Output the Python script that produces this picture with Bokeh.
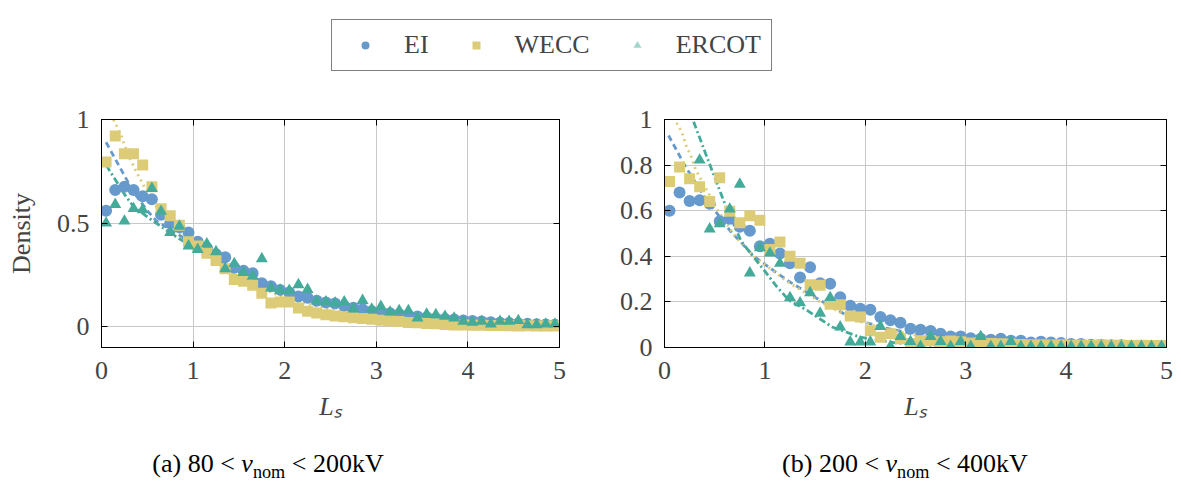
from bokeh.plotting import figure
from bokeh.models import (Legend, LegendItem, LinearAxis, FixedTicker,
                          CustomJSTickFormatter, Range1d, Div, Spacer)
from bokeh.layouts import column, row
from bokeh.embed import file_html
from bokeh.resources import INLINE

# ---------------- data ----------------
bins = [0.05, 0.15, 0.25, 0.35, 0.45, 0.55, 0.65, 0.75, 0.85, 0.95,
        1.05, 1.15, 1.25, 1.35, 1.45, 1.55, 1.65, 1.75, 1.85, 1.95,
        2.05, 2.15, 2.25, 2.35, 2.45, 2.55, 2.65, 2.75, 2.85, 2.95,
        3.05, 3.15, 3.25, 3.35, 3.45, 3.55, 3.65, 3.75, 3.85, 3.95,
        4.05, 4.15, 4.25, 4.35, 4.45, 4.55, 4.65, 4.75, 4.85, 4.95]

# (a) 80 < v_nom < 200 kV
a_ei = [0.56, 0.66, 0.675, 0.66, 0.63, 0.615, 0.54, 0.50, 0.48, 0.455,
        0.41, 0.38, 0.35, 0.335, 0.285, 0.27, 0.258, 0.21, 0.195, 0.178,
        0.165, 0.146, 0.14, 0.125, 0.117, 0.112, 0.10, 0.092, 0.085, 0.075,
        0.07, 0.065, 0.06, 0.055, 0.05, 0.045, 0.04, 0.037, 0.035, 0.03,
        0.028, 0.025, 0.022, 0.02, 0.018, 0.016, 0.014, 0.012, 0.011, 0.01]
a_wecc = [0.795, 0.92, 0.835, 0.835, 0.78, 0.675, 0.57, 0.536, 0.49, 0.41,
          0.39, 0.355, 0.32, 0.28, 0.228, 0.22, 0.2, 0.162, 0.115, 0.12,
          0.12, 0.09, 0.075, 0.066, 0.058, 0.052, 0.048, 0.044, 0.04, 0.036,
          0.032, 0.029, 0.026, 0.021, 0.019, 0.016, 0.014, 0.011, 0.009, 0.008,
          0.007, 0.007, 0.006, 0.006, 0.005, 0.004, 0.005, 0.004, 0.004, 0.004]
a_ercot = [0.50, 0.59, 0.51, 0.57, 0.565, 0.667, 0.557, 0.455, 0.485, 0.39,
           0.373, 0.40, 0.362, 0.28, 0.305, 0.262, 0.244, 0.328, 0.187, 0.176,
           0.175, 0.203, 0.18, 0.124, 0.12, 0.115, 0.12, 0.085, 0.127, 0.085,
           0.098, 0.071, 0.078, 0.078, 0.042, 0.061, 0.058, 0.05, 0.042, 0.026,
           0.022, 0.026, 0.013, 0.026, 0.026, 0.03, 0.01, 0.01, 0.013, 0.013]

# (b) 200 < v_nom < 400 kV
b_ei = [0.60, 0.68, 0.643, 0.646, 0.63, 0.554, 0.565, 0.53, 0.512, 0.444,
        0.455, 0.412, 0.37, 0.307, 0.352, 0.282, 0.28, 0.22, 0.183, 0.17,
        0.166, 0.134, 0.12, 0.109, 0.082, 0.078, 0.072, 0.06, 0.048, 0.048,
        0.041, 0.038, 0.034, 0.038, 0.03, 0.03, 0.022, 0.025, 0.022, 0.02,
        0.015, 0.015, 0.012, 0.012, 0.01, 0.01, 0.008, 0.008, 0.006, 0.006]
b_wecc = [0.728, 0.792, 0.74, 0.705, 0.64, 0.744, 0.598, 0.547, 0.578, 0.558,
          0.43, 0.463, 0.40, 0.369, 0.275, 0.273, 0.19, 0.187, 0.138, 0.134,
          0.073, 0.045, 0.06, 0.038, 0.018, 0.03, 0.03, 0.025, 0.028, 0.025,
          0.02, 0.02, 0.018, 0.016, 0.015, 0.013, 0.012, 0.012, 0.011, 0.012,
          0.01, 0.011, 0.01, 0.012, 0.01, 0.01, 0.009, 0.01, 0.009, 0.009]
b_ercot_x = [0.35, 0.45, 0.55, 0.65, 0.75, 0.85, 0.95,
             1.05, 1.15, 1.25, 1.35, 1.45, 1.55, 1.65, 1.75, 1.85, 1.95,
             2.05, 2.15, 2.25, 2.35, 2.45, 2.55, 2.65, 2.75, 2.85, 2.95,
             3.05, 3.15, 3.25, 3.35, 3.45, 3.55, 3.65, 3.75, 3.85, 3.95,
             4.05, 4.15, 4.25, 4.35, 4.45, 4.55, 4.65, 4.75, 4.85, 4.95]
b_ercot = [0.822, 0.52, 0.543, 0.607, 0.716, 0.327, 0.437,
           0.414, 0.369, 0.219, 0.196, 0.24, 0.15, 0.219, 0.09, 0.024, 0.024,
           0.024, 0.092, 0.005, 0.048, 0.026, 0.005, 0.048, 0.026, 0.005, 0.026,
           0.005, 0.048, 0.005, 0.005, 0.026, 0.005, 0.005, 0.005, 0.005, 0.005,
           0.005, 0.005, 0.005, 0.005, 0.005, 0.005, 0.005, 0.005, 0.005, 0.005]

# fitted densities
a_fit_ei_x = [0.05, 0.15, 0.25, 0.35, 0.5, 0.6, 0.75, 1.0, 1.25, 1.5, 1.75, 2.0, 2.5, 3.0, 3.5, 4.0, 4.5, 5.0]
a_fit_ei_y = [0.89, 0.81, 0.73, 0.65, 0.56, 0.51, 0.47, 0.40, 0.33, 0.27, 0.22, 0.175, 0.11, 0.068, 0.042, 0.026, 0.016, 0.01]
a_fit_wecc_x = [0.13, 0.18, 0.22, 0.25, 0.32, 0.36, 0.45, 0.53, 0.65, 0.75, 1.0, 1.25, 1.5, 1.75, 2.0, 2.5, 3.0, 3.5, 4.0, 4.5, 5.0]
a_fit_wecc_y = [1.0, 0.955, 0.918, 0.878, 0.805, 0.765, 0.69, 0.62, 0.55, 0.50, 0.39, 0.31, 0.24, 0.185, 0.14, 0.08, 0.045, 0.025, 0.014, 0.008, 0.004]
a_fit_ercot_x = [0.05, 0.165, 0.256, 0.35, 0.5, 0.63, 0.83, 1.0, 1.25, 1.5, 1.75, 2.0, 2.5, 3.0, 3.5, 4.0, 4.5, 5.0]
a_fit_ercot_y = [0.78, 0.70, 0.636, 0.58, 0.53, 0.49, 0.43, 0.385, 0.32, 0.265, 0.22, 0.18, 0.12, 0.08, 0.053, 0.035, 0.023, 0.015]

b_fit_ei_x = [0.04, 0.12, 0.2, 0.4, 0.65, 0.89, 1.22, 1.55, 1.88, 2.2, 2.6, 3.0, 3.5, 4.0, 4.5, 5.0]
b_fit_ei_y = [0.93, 0.866, 0.80, 0.66, 0.514, 0.40, 0.295, 0.207, 0.125, 0.085, 0.05, 0.03, 0.016, 0.009, 0.005, 0.003]
b_fit_wecc_x = [0.12, 0.17, 0.22, 0.26, 0.31, 0.36, 0.41, 0.44, 0.52, 0.7, 0.89, 1.22, 1.55, 1.88, 2.2, 2.6, 3.0, 3.5, 4.0, 4.5, 5.0]
b_fit_wecc_y = [0.985, 0.947, 0.88, 0.845, 0.78, 0.74, 0.70, 0.675, 0.61, 0.49, 0.40, 0.29, 0.20, 0.125, 0.08, 0.045, 0.025, 0.012, 0.006, 0.003, 0.002]
b_fit_ercot_x = [0.29, 0.41, 0.51, 0.61, 0.76, 0.81, 0.99, 1.12, 1.24, 1.42, 1.67, 1.95, 2.3, 2.7, 3.2, 4.0, 5.0]
b_fit_ercot_y = [0.99, 0.85, 0.735, 0.62, 0.47, 0.44, 0.34, 0.266, 0.207, 0.163, 0.09, 0.045, 0.02, 0.008, 0.003, 0.001, 0.0]

series_names = ["EI", "WECC", "ERCOT"]
x_ticks = [0, 1, 2, 3, 4, 5]
a_y_ticks = [0, 0.5, 1]
b_y_ticks = [0, 0.2, 0.4, 0.6, 0.8, 1]
SUB = '<sub style="line-height:0;font-size:70%">nom</sub>'
captions = ["(a) 80 &lt; <i>v</i>" + SUB + " &lt; 200kV",
            "(b) 200 &lt; <i>v</i>" + SUB + " &lt; 400kV"]

# ---------------- style ----------------
FONT = "Liberation Serif"
FS = "26px"
C_EI, C_WECC, C_ERCOT = "#6699CC", "#DDCC77", "#44AA99"
GRID = "#c8c8c8"
fmt = CustomJSTickFormatter(code="return String(Math.round(tick*10)/10);")


def style_axis(ax, ticks, show_labels=True, standoff=12):
    ax.ticker = FixedTicker(ticks=ticks)
    ax.formatter = fmt
    ax.major_tick_in = 6
    ax.major_tick_out = 0
    ax.minor_tick_line_color = None
    ax.axis_line_color = "black"
    ax.major_tick_line_color = "black"
    ax.major_label_text_font = FONT
    if show_labels:
        ax.major_label_text_font_size = FS
        ax.major_label_standoff = standoff
    else:
        # mirrored tick marks only: labels are not drawn at all
        ax.major_label_text_color = None
        ax.major_label_text_font_size = "1px"
        ax.major_label_standoff = 0


def make_panel(width, border_l, border_r, y0, y_ticks, ylabel,
               ei, wecc, ercot_x, ercot, fits):
    p = figure(width=width, height=346, x_range=Range1d(0, 5), y_range=Range1d(y0, 1),
               toolbar_location=None, output_backend="svg",
               min_border_left=border_l, min_border_right=border_r,
               min_border_top=19, min_border_bottom=99)
    p.outline_line_color = "black"
    p.outline_line_width = 1
    p.background_fill_color = "white"
    p.border_fill_color = "white"

    xa = p.xaxis[0]
    ya = p.yaxis[0]
    style_axis(xa, x_ticks, standoff=14)
    style_axis(ya, y_ticks, standoff=12)
    xa.axis_label = "Lₛ"
    xa.axis_label_text_font = FONT
    xa.axis_label_text_font_size = FS
    xa.axis_label_text_font_style = "italic"
    xa.axis_label_standoff = 10
    if ylabel:
        ya.axis_label = ylabel
        ya.axis_label_text_font = FONT
        ya.axis_label_text_font_size = FS
        ya.axis_label_text_font_style = "normal"
        ya.axis_label_standoff = 18

    ra = LinearAxis()
    style_axis(ra, y_ticks, show_labels=False)
    p.add_layout(ra, "right")
    ta = LinearAxis()
    style_axis(ta, x_ticks, show_labels=False)
    p.add_layout(ta, "above")

    p.xgrid.ticker = FixedTicker(ticks=x_ticks)
    p.ygrid.ticker = FixedTicker(ticks=y_ticks)
    p.grid.grid_line_color = GRID
    p.grid.grid_line_width = 1

    (fx1, fy1), (fx2, fy2), (fx3, fy3) = fits
    p.line(fx1, fy1, line_color=C_EI, line_width=2.8, line_dash="6 4")
    p.line(fx2, fy2, line_color=C_WECC, line_width=2.8, line_dash="2 4")
    p.line(fx3, fy3, line_color=C_ERCOT, line_width=2.8, line_dash="7 3 2 3")

    p.scatter(bins, ei, marker="circle", size=12, fill_color=C_EI, line_color=None)
    p.scatter(bins, wecc, marker="square", size=11, fill_color=C_WECC, line_color=None)
    p.scatter(ercot_x, ercot, marker="triangle", size=12, fill_color=C_ERCOT, line_color=None)
    return p


pa = make_panel(600, 101, 41, -0.1, a_y_ticks, "Density",
                a_ei, a_wecc, bins, a_ercot,
                [(a_fit_ei_x, a_fit_ei_y), (a_fit_wecc_x, a_fit_wecc_y),
                 (a_fit_ercot_x, a_fit_ercot_y)])
pb = make_panel(581, 64, 15, 0, b_y_ticks, None,
                b_ei, b_wecc, b_ercot_x, b_ercot,
                [(b_fit_ei_x, b_fit_ei_y), (b_fit_wecc_x, b_fit_wecc_y),
                 (b_fit_ercot_x, b_fit_ercot_y)])

# ---------------- legend strip ----------------
lg = figure(width=1181, height=100, x_range=Range1d(0, 1), y_range=Range1d(0, 1),
            toolbar_location=None, output_backend="svg",
            x_axis_location=None, y_axis_location=None, min_border=0)
lg.grid.visible = False
lg.outline_line_color = None
nan = float("nan")
r1 = lg.scatter([nan], [nan], marker="circle", size=12, fill_color=C_EI, line_color=None)
r2 = lg.scatter([nan], [nan], marker="square", size=12, fill_color=C_WECC, line_color=None)
r3 = lg.scatter([nan], [nan], marker="triangle", size=13, fill_color=C_ERCOT,
                fill_alpha=0.5, line_color=None)
legend = Legend(items=[LegendItem(label=series_names[0], renderers=[r1]),
                       LegendItem(label=series_names[1], renderers=[r2]),
                       LegendItem(label=series_names[2], renderers=[r3])],
                orientation="horizontal", location=(331, 29),
                border_line_color="black", border_line_width=1,
                background_fill_color="white", background_fill_alpha=1,
                label_text_font=FONT, label_text_font_size=FS,
                glyph_width=46, glyph_height=20, label_standoff=16,
                spacing=24, padding=10, margin=0)
lg.add_layout(legend, "center")

# ---------------- captions ----------------
cap_style = {"font-family": "'Liberation Serif', serif", "font-size": "26px",
             "line-height": "36px", "text-align": "center", "color": "black",
             "white-space": "nowrap", "overflow": "visible"}
cap_a = Div(text=captions[0], width=536, height=36, margin=(0, 0, 0, 0), styles=cap_style)
cap_b = Div(text=captions[1], width=552, height=36, margin=(0, 0, 0, 0), styles=cap_style)
gap = Spacer(width=93, height=36, margin=(0, 0, 0, 0))

layout = column(lg, row(pa, pb), row(cap_a, gap, cap_b))

open("out.html", "w").write(file_html(layout, INLINE))
